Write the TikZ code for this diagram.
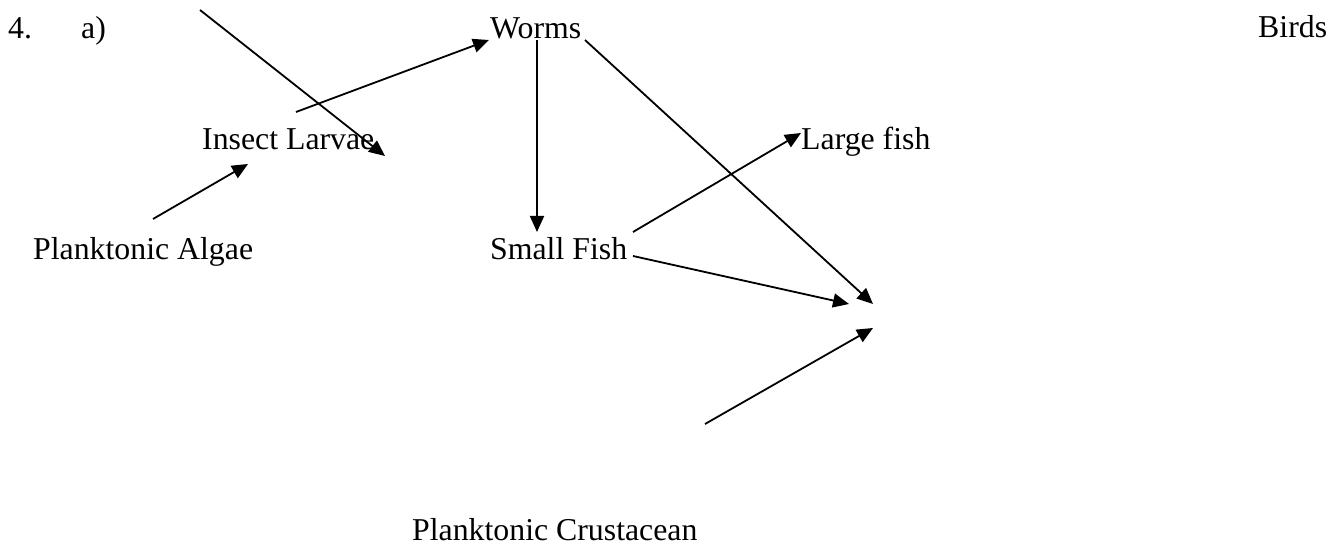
\documentclass[tikz,border=0pt]{standalone}
\usepackage{fontspec}
\setmainfont{Liberation Serif}
\usetikzlibrary{arrows.meta}
\begin{document}
\begin{tikzpicture}[x=1pt,y=-1pt,
  lbl/.style={anchor=base west,inner sep=0pt,font=\fontsize{31.8}{36}\selectfont},
  conn/.style={line width=1.8pt,-{Triangle[length=16pt,width=14pt]}}]
\useasboundingbox (0,0) rectangle (1342,545);
% texts
\node[lbl] (num) at (8,39) {4.};
\node[lbl] (part) at (81,39) {a)};
\node[lbl] (worms) at (490,39) {Worms};
\node[lbl] (birds) at (1258,38) {Birds};
\node[lbl] (larvae) at (202,150) {Insect Larvae};
\node[lbl] (large) at (801,150) {Large fish};
\node[lbl] (algae) at (33,260) {Planktonic Algae};
\node[lbl] (small) at (490,260) {Small Fish};
\node[lbl] (crust) at (412,540) {Planktonic Crustacean};
% connector ends
\coordinate (d1s) at (200,10);   \coordinate (d1e) at (385,156);
\coordinate (lws) at (296,112);  \coordinate (lwe) at (489,40);
\coordinate (als) at (153,219);  \coordinate (ale) at (248,164);
\coordinate (wss) at (537,40);   \coordinate (wse) at (537,232);
\coordinate (wts) at (585,40);   \coordinate (wte) at (873,304);
\coordinate (sls) at (633,232);  \coordinate (sle) at (801,133);
\coordinate (sts) at (633,256);  \coordinate (ste) at (849,304);
\coordinate (cts) at (705,424);  \coordinate (cte) at (873,328);
% connectors
\draw[conn] (d1s) -- (d1e);
\draw[conn] (lws) -- (lwe);
\draw[conn] (als) -- (ale);
\draw[conn] (wss) -- (wse);
\draw[conn] (wts) -- (wte);
\draw[conn] (sls) -- (sle);
\draw[conn] (sts) -- (ste);
\draw[conn] (cts) -- (cte);
\end{tikzpicture}
\end{document}
